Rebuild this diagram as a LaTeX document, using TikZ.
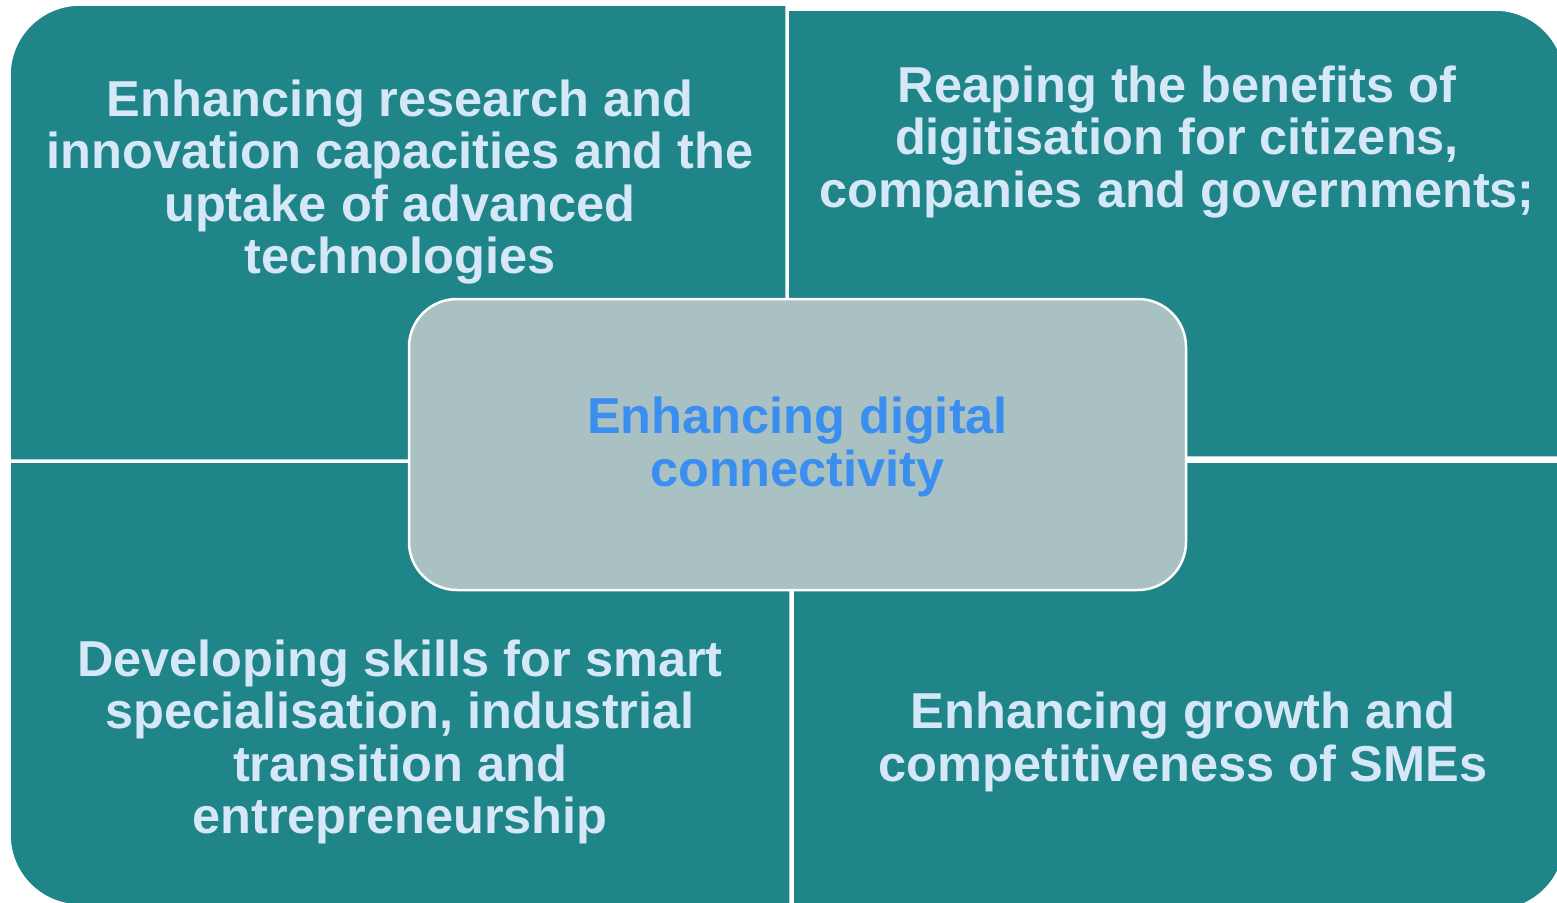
\documentclass[tikz,border=0pt]{standalone}
\usepackage{fontspec}
\setmainfont{Liberation Sans}
\definecolor{quadfill}{HTML}{1F8589}
\definecolor{quadink}{HTML}{D6E8F7}
\definecolor{hubfill}{HTML}{A9C1C3}
\definecolor{hubink}{HTML}{3A8EEF}

\begin{document}
\begin{tikzpicture}[x=1pt,y=-1pt,
  quad/.style={fill=quadfill,draw=white,line width=1.5pt},
  quadtext/.style={text=quadink,align=center,font=\bfseries\fontsize{50.5}{52.5}\selectfont},
  hub/.style={fill=hubfill,draw=white,line width=2.5pt,rounded corners=48pt,
    minimum width=777pt,minimum height=291pt}]
\useasboundingbox (0,0) rectangle (1557,902);
\clip (0,0) rectangle (1557,902);
% four quarters
\draw [quad] (786,460) -- (10,460) -- (10,75) arc [start angle=180,end angle=270,radius=70] -- (786,5) -- cycle;
\draw [quad] (788,457) -- (788,10) -- (1495,10) arc [start angle=270,end angle=360,radius=70] -- (1565,457) -- cycle;
\draw [quad] (790,462) -- (790,905) -- (80,905) arc [start angle=90,end angle=180,radius=70] -- (10,462) -- cycle;
\draw [quad] (793,462) -- (1565,462) -- (1565,840) arc [start angle=0,end angle=90,radius=70] -- (793,910) -- cycle;
% labels
\node (research) [quadtext] at (400,182) {Enhancing research and\\innovation capacities and the\\uptake of advanced\\technologies};
\node (digitise) [quadtext] at (1177,142) {Reaping the benefits of\\digitisation for citizens,\\companies and governments;};
\node (skills) [quadtext] at (400,742) {Developing skills for smart\\specialisation, industrial\\transition and\\entrepreneurship};
\node (growth) [quadtext] at (1183,742) {Enhancing growth and\\competitiveness of SMEs};
% centre
\node (hub) [hub] at (797.5,444.5) {};
\node (hubtext) [quadtext,text=hubink] at (797.5,447) {Enhancing digital\\connectivity};
\end{tikzpicture}
\end{document}
